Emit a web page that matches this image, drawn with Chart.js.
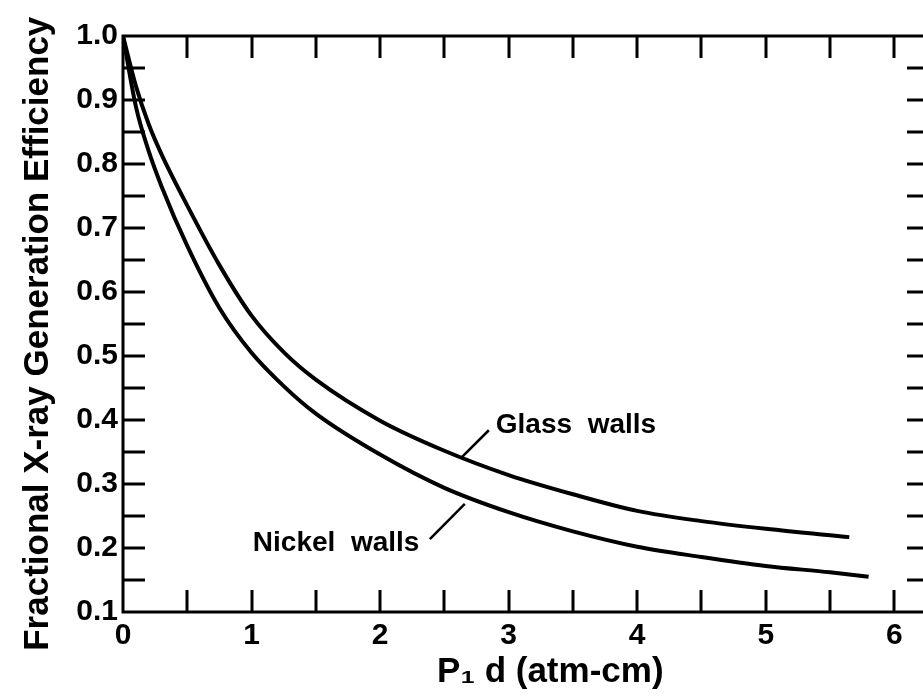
<!DOCTYPE html>
<html>
<head>
<meta charset="utf-8">
<script src="https://cdn.jsdelivr.net/npm/chart.js@4/dist/chart.umd.min.js"></script>
<style>
  html, body { margin: 0; padding: 0; background: #ffffff; overflow: hidden; }
  #wrap { width: 935px; height: 699px; }
</style>
</head>
<body>
<div id="wrap"><canvas id="c" width="935" height="699"></canvas></div>
<script>
// ---- data ----
const glassX   = [0, 0.1, 0.2, 0.3, 0.5, 0.75, 1, 1.25, 1.5, 2, 2.5, 3, 3.5, 4, 4.5, 5, 5.65];
const glassY   = [1.0, 0.922, 0.862, 0.815, 0.735, 0.642, 0.563, 0.506, 0.463, 0.399, 0.352, 0.314, 0.284, 0.258, 0.242, 0.230, 0.217];
const nickelX  = [0, 0.1, 0.2, 0.3, 0.5, 0.75, 1, 1.25, 1.5, 2, 2.5, 3, 3.5, 4, 4.5, 5, 5.5, 5.8];
const nickelY  = [1.0, 0.89, 0.82, 0.765, 0.672, 0.575, 0.505, 0.453, 0.41, 0.346, 0.294, 0.256, 0.226, 0.202, 0.186, 0.172, 0.162, 0.155];
const seriesNames = ['Glass walls', 'Nickel walls'];
const xTickLabels = ['0', '1', '2', '3', '4', '5', '6'];
const yTickLabels = ['0.1', '0.2', '0.3', '0.4', '0.5', '0.6', '0.7', '0.8', '0.9', '1.0'];
const xTitle = 'P\u2081 d (atm-cm)';
const yTitle = 'Fractional X-ray Generation Efficiency';

// label / leader-line anchors (data units)
const notes = [
  { text: 'Glass  walls',  at: [2.90, 0.391], line: [[2.636, 0.342], [2.846, 0.384]] },
  { text: 'Nickel  walls', at: [1.01, 0.208], line: [[2.387, 0.214], [2.659, 0.269]] },
];

const FONT = "'Liberation Sans', Arial, sans-serif";

function pts(xs, ys) { return xs.map((x, i) => ({ x: x, y: ys[i] })); }

const frameTicks = {
  id: 'frameTicks',
  afterDatasetsDraw(chart) {
    const { ctx, chartArea: a, scales: { x, y } } = chart;
    const L = 22;
    ctx.save();
    ctx.strokeStyle = '#000';
    ctx.lineWidth = 3;
    ctx.lineCap = 'butt';
    ctx.strokeRect(a.left, a.top, a.right - a.left, a.bottom - a.top);
    x.ticks.forEach(t => {
      const v = t.value;
      if (v <= x.min + 1e-9 || v >= x.max - 1e-9) return;
      const px = Math.round(x.getPixelForValue(v));
      ctx.beginPath();
      ctx.moveTo(px, a.bottom); ctx.lineTo(px, a.bottom - L);
      ctx.moveTo(px, a.top); ctx.lineTo(px, a.top + L);
      ctx.stroke();
    });
    y.ticks.forEach(t => {
      const v = t.value;
      if (v <= y.min + 1e-9 || v >= y.max - 1e-9) return;
      const py = Math.round(y.getPixelForValue(v));
      ctx.beginPath();
      ctx.moveTo(a.left, py); ctx.lineTo(a.left + L, py);
      ctx.moveTo(a.right, py); ctx.lineTo(a.right - L, py);
      ctx.stroke();
    });
    // annotations
    ctx.fillStyle = '#000';
    ctx.font = 'bold 28px ' + FONT;
    ctx.textBaseline = 'middle';
    ctx.textAlign = 'left';
    ctx.lineWidth = 2.5;
    notes.forEach(n => {
      ctx.fillText(n.text, x.getPixelForValue(n.at[0]), y.getPixelForValue(n.at[1]));
      ctx.beginPath();
      ctx.moveTo(x.getPixelForValue(n.line[0][0]), y.getPixelForValue(n.line[0][1]));
      ctx.lineTo(x.getPixelForValue(n.line[1][0]), y.getPixelForValue(n.line[1][1]));
      ctx.stroke();
    });
    ctx.restore();
  }
};

new Chart(document.getElementById('c'), {
  type: 'line',
  data: {
    datasets: [
      { label: seriesNames[0], data: pts(glassX, glassY), borderColor: '#000', borderWidth: 4,
        pointRadius: 0, fill: false, cubicInterpolationMode: 'monotone' },
      { label: seriesNames[1], data: pts(nickelX, nickelY), borderColor: '#000', borderWidth: 4,
        pointRadius: 0, fill: false, cubicInterpolationMode: 'monotone' },
    ]
  },
  options: {
    responsive: false,
    animation: false,
    devicePixelRatio: 1,
    layout: { padding: { top: 36, right: 6, left: 0, bottom: 0 } },
    plugins: { legend: { display: false }, tooltip: { enabled: false } },
    scales: {
      x: {
        type: 'linear', min: 0, max: 6.27,
        grid: { display: false, drawTicks: false }, border: { display: false },
        ticks: {
          stepSize: 0.5, includeBounds: false, color: '#000', padding: 6, maxRotation: 0, autoSkip: false,
          font: { family: FONT, size: 30, weight: 'bold' },
          callback: v => { const i = Math.round(v); return Math.abs(v - i) < 1e-6 && xTickLabels[i] !== undefined ? xTickLabels[i] : ''; }
        },
        title: { display: true, text: '     ' + xTitle, color: '#000',
          font: { family: FONT, size: 35, weight: 'bold' }, padding: { top: 0, bottom: 6 } },
        afterFit: s => { s.height = 87; }
      },
      y: {
        type: 'linear', min: 0.1, max: 1.0,
        grid: { display: false, drawTicks: false }, border: { display: false },
        ticks: {
          stepSize: 0.05, color: '#000', padding: 5, autoSkip: false,
          font: { family: FONT, size: 30, weight: 'bold' },
          callback: v => { const i = Math.round(v * 10) - 1; return Math.abs(v * 10 - Math.round(v * 10)) < 1e-6 && yTickLabels[i] !== undefined ? yTickLabels[i] : ''; }
        },
        title: { display: true, text: yTitle + '  ', color: '#000',
          font: { family: FONT, size: 35, weight: 'bold' }, padding: { top: 17, bottom: 0 } },
        afterFit: s => { s.width = 123; }
      }
    }
  },
  plugins: [frameTicks]
});
</script>
</body>
</html>
